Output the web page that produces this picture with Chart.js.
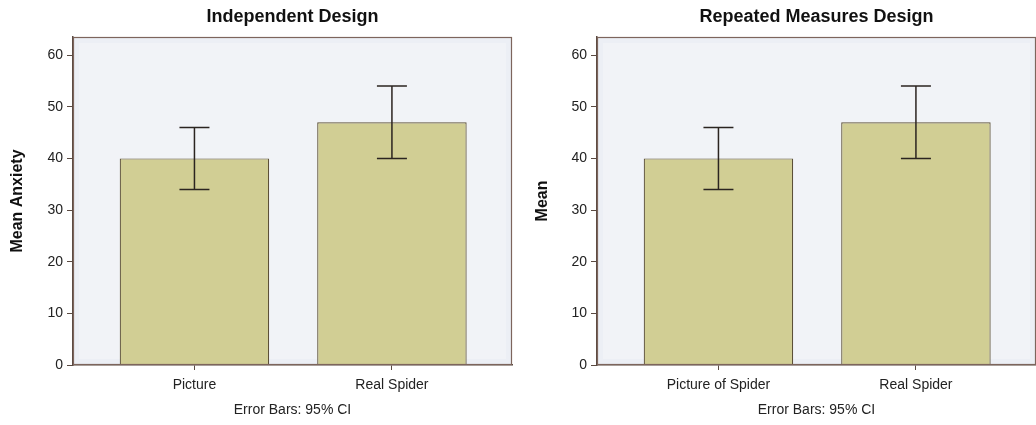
<!DOCTYPE html>
<html>
<head>
<meta charset="utf-8">
<script src="https://cdn.jsdelivr.net/npm/chart.js@4/dist/chart.umd.min.js"></script>
<style>
    body { margin: 0; background: #fff; }
    .wrap { position: absolute; top: 0; height: 425px; }
</style>
</head>
<body>
<div class="wrap" style="left:0;width:520px"><canvas id="chartIndep" width="520" height="425"></canvas></div>
<div class="wrap" style="left:520px;width:516px"><canvas id="chartRepeat" width="516" height="425"></canvas></div>
<script>
// data
const indepLabels = ['Picture', 'Real Spider'];
const repeatLabels = ['Picture of Spider', 'Real Spider'];
const meanValues = [40, 47];
const ciLower = [34, 40];
const ciUpper = [46, 54];
const yTicks = [0, 10, 20, 30, 40, 50, 60];

Chart.defaults.font.family = '"Liberation Sans", Arial, sans-serif';
Chart.defaults.color = '#222';

// plot background + frame
const plotBg = {
    id: 'plotBg',
    beforeDraw(chart) {
        const a = chart.chartArea, ctx = chart.ctx;
        ctx.save();
        ctx.fillStyle = '#eceff5';
        ctx.fillRect(a.left, a.top, a.right - a.left, a.bottom - a.top);
        ctx.fillStyle = '#f1f3f7';
        ctx.fillRect(a.left + 6, a.top + 6, a.right - a.left - 12, a.bottom - a.top - 12);
        ctx.restore();
    },
    afterDraw(chart) {
        const a = chart.chartArea, ctx = chart.ctx;
        ctx.save();
        ctx.strokeStyle = '#7d655c';
        ctx.lineWidth = 1.2;
        ctx.strokeRect(a.left + 0.5, a.top + 0.5, a.right - a.left - 1, a.bottom - a.top - 1);
        ctx.restore();
    }
};

// 95% CI whiskers
const errorBars = {
    id: 'errorBars',
    afterDatasetsDraw(chart) {
        const ctx = chart.ctx;
        const xs = chart.scales.x, ys = chart.scales.y;
        ctx.save();
        ctx.strokeStyle = '#2b2420';
        ctx.lineWidth = 1.5;
        meanValues.forEach((v, i) => {
            const x = xs.getPixelForValue(i + 1);
            const yLo = ys.getPixelForValue(ciLower[i]);
            const yHi = ys.getPixelForValue(ciUpper[i]);
            ctx.beginPath();
            ctx.moveTo(x, yLo); ctx.lineTo(x, yHi);
            ctx.moveTo(x - 15, yLo); ctx.lineTo(x + 15, yLo);
            ctx.moveTo(x - 15, yHi); ctx.lineTo(x + 15, yHi);
            ctx.stroke();
        });
        ctx.restore();
    }
};

function makeChart(canvasId, titleText, labels, yTitle, yWidth, yTitlePad, padRight) {
    return new Chart(document.getElementById(canvasId), {
        type: 'bar',
        data: {
            datasets: [{
                data: meanValues.map((v, i) => ({ x: i + 1, y: v })),
                backgroundColor: '#d1ce94',
                borderColor: '#5c5038',
                borderWidth: 1.2,
                barPercentage: 0.87,
                categoryPercentage: 0.87
            }]
        },
        options: {
            responsive: false,
            animation: false,
            layout: { padding: { left: 0, right: padRight, top: 0, bottom: 0 } },
            plugins: {
                legend: { display: false },
                tooltip: { enabled: false },
                title: {
                    display: true,
                    text: titleText,
                    fullSize: false,
                    font: { size: 18, weight: 'bold' },
                    color: '#111',
                    padding: { top: 6, bottom: 9.4 }
                }
            },
            scales: {
                x: {
                    type: 'linear',
                    offset: false,
                    min: 0.385,
                    max: 2.608,
                    afterBuildTicks: scale => { scale.ticks = [{ value: 1 }, { value: 2 }]; },
                    afterFit: scale => { scale.height = 60; },
                    ticks: {
                        callback: v => labels[v - 1],
                        font: { size: 14 },
                        padding: 7,
                        maxRotation: 0
                    },
                    grid: { offset: false, drawOnChartArea: false, tickLength: 5, color: '#5a4a42' },
                    border: { color: '#5a4a42', width: 1.5 },
                    title: {
                        display: true,
                        text: 'Error Bars: 95% CI',
                        font: { size: 14 },
                        padding: { top: 0, bottom: 6.6 }
                    }
                },
                y: {
                    min: 0,
                    max: 63.5,
                    afterBuildTicks: scale => { scale.ticks = yTicks.map(v => ({ value: v })); },
                    afterFit: scale => { scale.width = yWidth; },
                    ticks: { font: { size: 14 }, padding: 4 },
                    grid: { drawOnChartArea: false, tickLength: 6, color: '#5a4a42' },
                    border: { color: '#5a4a42', width: 1.5 },
                    title: {
                        display: true,
                        text: yTitle,
                        font: { size: 16, weight: 'bold' },
                        color: '#111',
                        padding: { top: yTitlePad, bottom: 0 }
                    }
                }
            }
        },
        plugins: [plotBg, errorBars]
    });
}

makeChart('chartIndep', 'Independent Design', indepLabels, 'Mean Anxiety', 73, 8, 8);
makeChart('chartRepeat', 'Repeated Measures Design', repeatLabels, 'Mean', 77, 13, 0);
</script>
</body>
</html>
